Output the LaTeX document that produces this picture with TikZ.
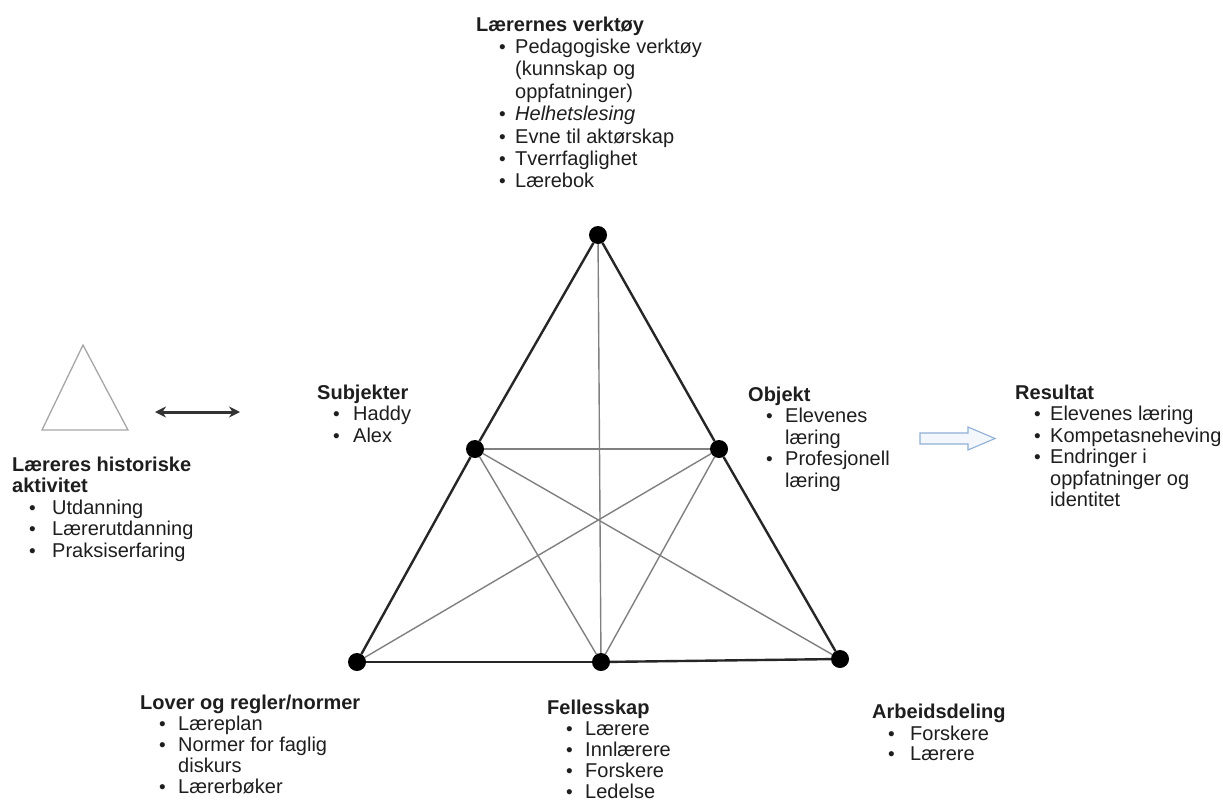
\documentclass[tikz,border=0pt]{standalone}
\usepackage{fontspec}
\setmainfont{Liberation Sans}
\usetikzlibrary{arrows.meta}

\definecolor{txtcol}{HTML}{1E1E1E}
\definecolor{arrowline}{HTML}{8FAFD6}
\definecolor{arrowfill}{HTML}{F3F7FC}

% list helpers: indent of the bullet and gap between bullet and text
\newlength\bind
\newlength\bgap
\newcommand\bul{\raisebox{0pt}{\fontsize{19}{19}\selectfont\textbullet}}
\newcommand\itm[1]{\strut\hspace*{\bind}\makebox[\bgap][l]{\bul}#1}
\newcommand\cnt[1]{\strut\hspace*{\bind}\hspace*{\bgap}#1}
\newcommand\hd[1]{\strut\textbf{#1}}

\tikzset{
  x=1pt, y=-1pt,
  txt/.style={anchor=north west, inner sep=0pt, align=left, text=txtcol,
              font=\fontsize{20}{21.5}\selectfont},
  lst/.style 2 args={execute at begin node={\setlength\bind{#1pt}\setlength\bgap{#2pt}}},
  dot/.style={circle, fill=black, minimum size=18pt, inner sep=0pt},
  outer/.style={line width=2.4pt, draw=black!85},
  inner/.style={line width=1.4pt, draw=black!50},
}

\begin{document}
\begin{tikzpicture}
  \fill[white] (0,0) rectangle (1223,803);
  \useasboundingbox (0,0) rectangle (1223,803);

  % activity triangle corners and edge midpoints
  \node[dot] (tool) at (598,235) {};
  \node[dot] (subj) at (475,449) {};
  \node[dot] (obj)  at (719,449) {};
  \node[dot] (rule) at (357,662) {};
  \node[dot] (comm) at (601,662) {};
  \node[dot] (div)  at (840,659) {};

  % inner connections
  \draw[inner] (tool) -- (comm);
  \draw[inner] (subj) -- (obj);
  \draw[inner] (subj) -- (comm);
  \draw[inner] (subj) -- (div);
  \draw[inner] (obj)  -- (rule);
  \draw[inner] (obj)  -- (comm);

  % outer edges
  \draw[outer] (tool) -- (subj);
  \draw[outer] (subj) -- (rule);
  \draw[outer] (tool) -- (obj);
  \draw[outer] (obj)  -- (div);
  \draw[outer] (rule) -- (comm);
  \draw[outer] (comm) -- (div);

  % small historical triangle
  \draw[line width=1.3pt, draw=black!35, line join=miter] (83,345) -- (128,430) -- (42,430) -- cycle;

  % two-way arrow
  \coordinate (dl) at (155,412);
  \coordinate (dr) at (240,412);
  \draw[line width=3pt, draw=black!80,
        {Stealth[length=11pt,width=11pt]}-{Stealth[length=11pt,width=11pt]}] (dl) -- (dr);

  % hollow block arrow towards the result
  \draw[line width=1.1pt, draw=arrowline, fill=arrowfill, line join=miter]
    (920,433) -- (968,433) -- (968,427) -- (995,438.5) -- (968,450) -- (968,444) -- (920,444) -- cycle;

  % labels
  \node[txt, lst={23}{16}, font=\fontsize{20}{22.4}\selectfont] (ttool) at (476,15.3) {%
    \hd{Lærernes verktøy}\\
    \itm{Pedagogiske verktøy}\\
    \cnt{(kunnskap og}\\
    \cnt{oppfatninger)}\\
    \itm{\textit{Helhetslesing}}\\
    \itm{Evne til aktørskap}\\
    \itm{Tverrfaglighet}\\
    \itm{Lærebok}};

  \node[txt, lst={17}{23}] (thist) at (12,456) {%
    \hd{Læreres historiske}\\
    \hd{aktivitet}\\
    \itm{Utdanning}\\
    \itm{Lærerutdanning}\\
    \itm{Praksiserfaring}};

  \node[txt, lst={16}{20}] (tsubj) at (317,384) {%
    \hd{Subjekter}\\
    \itm{Haddy}\\
    \itm{Alex}};

  \node[txt, lst={18}{19}] (tobj) at (748,386) {%
    \hd{Objekt}\\
    \itm{Elevenes}\\
    \cnt{læring}\\
    \itm{Profesjonell}\\
    \cnt{læring}};

  \node[txt, lst={19}{16}] (tres) at (1015,384) {%
    \hd{Resultat}\\
    \itm{Elevenes læring}\\
    \itm{Kompetasneheving}\\
    \itm{Endringer i}\\
    \cnt{oppfatninger og}\\
    \cnt{identitet}};

  \node[txt, lst={19}{19}, font=\fontsize{20}{21}\selectfont] (trule) at (140,695) {%
    \hd{Lover og regler/normer}\\
    \itm{Læreplan}\\
    \itm{Normer for faglig}\\
    \cnt{diskurs}\\
    \itm{Lærerbøker}};

  \node[txt, lst={19}{19}, font=\fontsize{20}{19}\selectfont] (tcomm) at (547,700) {%
    \hd{Fellesskap}\\
    \itm{Lærere}\\
    \itm{Innlærere}\\
    \itm{Forskere}\\
    \itm{Ledelse}};

  \node[txt, lst={16}{22}, font=\fontsize{20}{20}\selectfont] (tdiv) at (872,704) {%
    \hd{Arbeidsdeling}\\
    \itm{Forskere}\\
    \itm{Lærere}};
\end{tikzpicture}
\end{document}
